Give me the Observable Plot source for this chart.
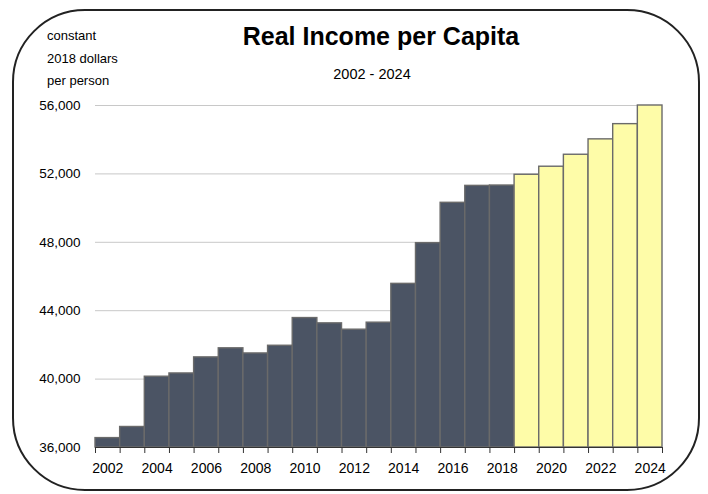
<!DOCTYPE html>
<html>
<head>
<meta charset="utf-8">
<script src="https://cdn.jsdelivr.net/npm/d3@7"></script>
<script src="https://cdn.jsdelivr.net/npm/@observablehq/plot@0.6"></script>
<style>
  html, body { margin: 0; padding: 0; background: #fff; overflow: hidden; }
  #chart svg { display: block; }
</style>
</head>
<body>
<div id="chart"></div>
<script>
// ---- data ----
const years = [2002, 2003, 2004, 2005, 2006, 2007, 2008, 2009, 2010, 2011, 2012, 2013,
               2014, 2015, 2016, 2017, 2018, 2019, 2020, 2021, 2022, 2023, 2024];
const income = [36550, 37200, 40140, 40330, 41270, 41800, 41500, 41950, 43570, 43260, 42890, 43300,
                45570, 47950, 50310, 51300, 51320, 51950, 52420, 53120, 54020, 54910, 56000];
const kinds = ["actual", "actual", "actual", "actual", "actual", "actual", "actual", "actual",
               "actual", "actual", "actual", "actual", "actual", "actual", "actual", "actual", "actual",
               "projected", "projected", "projected", "projected", "projected", "projected"];
const yTicks = [36000, 40000, 44000, 48000, 52000, 56000];
const xLabels = [2002, 2004, 2006, 2008, 2010, 2012, 2014, 2016, 2018, 2020, 2022, 2024];
const title = "Real Income per Capita";
const subtitle = "2002 - 2024";
const unitLines = ["constant", "2018 dollars", "per person"];

const data = years.map((year, i) => ({year, value: income[i], kind: kinds[i]}));
const boundaries = years.map(y => y - 0.5).concat([years[years.length - 1] + 0.5]);
const yMin = yTicks[0], yMax = yTicks[yTicks.length - 1];

const W = 708, H = 494;
const plot = Plot.plot({
  width: W,
  height: H,
  marginLeft: 95,
  marginRight: 46,
  marginTop: 105,
  marginBottom: 47,
  style: {fontFamily: "Liberation Sans, Arial, sans-serif", fontSize: "13px", color: "#000", background: "#fff"},
  x: {domain: [boundaries[0], boundaries[boundaries.length - 1]], axis: null, label: null},
  y: {domain: [yMin, yMax], axis: null, label: null},
  color: {domain: ["actual", "projected"], range: ["#4b5464", "#fefca8"]},
  marks: [
    Plot.ruleY(yTicks, {stroke: "#c8c8c8", strokeWidth: 1}),
    Plot.rectY(data, {
      x1: d => d.year - 0.5,
      x2: d => d.year + 0.5,
      y1: yMin,
      y2: "value",
      fill: "kind",
      stroke: "#6a6a6a",
      strokeWidth: 1.4
    }),
    Plot.ruleY([yMin], {stroke: "#333", strokeWidth: 1.2}),
    Plot.axisX(boundaries, {tickSize: 6, tickFormat: () => "", stroke: "#333", label: null}),
    Plot.axisX(xLabels, {tickSize: 0, tickPadding: 16, tickFormat: d => `${d}`, fontSize: 14, fill: "#000", label: null}),
    Plot.axisY(yTicks, {tickSize: 0, tickPadding: 15, tickFormat: d3.format(","), fontSize: 13.5, fill: "#000", label: null})
  ]
});
document.getElementById("chart").appendChild(plot);

// ---- decorations: frame, title, subtitle, unit note ----
const svg = d3.select(plot);
svg.append("rect")
  .attr("x", 13).attr("y", 10).attr("width", 686).attr("height", 480)
  .attr("rx", 72).attr("ry", 72)
  .attr("fill", "none").attr("stroke", "#222").attr("stroke-width", 2);
svg.append("text")
  .attr("x", 381).attr("y", 45).attr("text-anchor", "middle")
  .attr("font-family", "Liberation Sans, Arial, sans-serif")
  .attr("font-weight", "bold").attr("font-size", 25).attr("fill", "#000")
  .text(title);
svg.append("text")
  .attr("x", 372).attr("y", 79).attr("text-anchor", "middle")
  .attr("font-family", "Liberation Sans, Arial, sans-serif")
  .attr("font-size", 14.5).attr("fill", "#000")
  .text(subtitle);
unitLines.forEach((line, i) => {
  svg.append("text")
    .attr("x", 47).attr("y", 40 + i * 22.5)
    .attr("text-anchor", "start")
    .attr("font-family", "Liberation Sans, Arial, sans-serif")
    .attr("font-size", 13).attr("fill", "#000")
    .text(line);
});
</script>
</body>
</html>
